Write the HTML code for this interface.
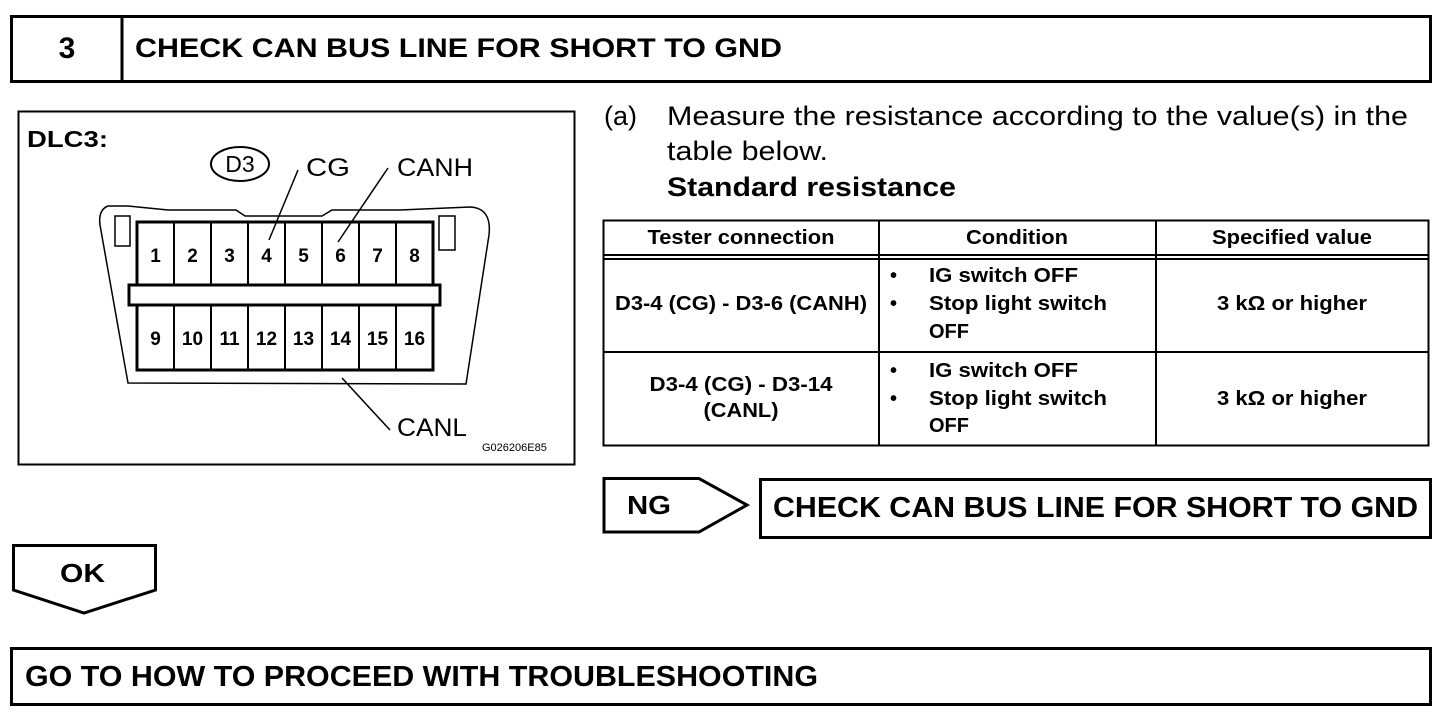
<!DOCTYPE html>
<html><head><meta charset="utf-8"><style>
html,body{margin:0;padding:0;background:#fff;}
svg{display:block;}
text{font-family:"Liberation Sans",Arial,sans-serif;fill:#000;}
.b{font-weight:bold;}
</style></head><body>
<svg width="1456" height="722" viewBox="0 0 1456 722" xmlns="http://www.w3.org/2000/svg">
<rect x="11.5" y="16.5" width="1419" height="65" fill="none" stroke="#000" stroke-width="3"/>
<line x1="122" y1="16" x2="122" y2="82" stroke="#000" stroke-width="3"/>
<text x="67" y="58" class="b" font-size="30" text-anchor="middle">3</text>
<text x="135" y="57" class="b" font-size="27" textLength="647" lengthAdjust="spacingAndGlyphs">CHECK CAN BUS LINE FOR SHORT TO GND</text>

<rect x="18.5" y="111.5" width="556" height="353" fill="none" stroke="#000" stroke-width="2"/>
<text x="27" y="147" class="b" font-size="23" textLength="81" lengthAdjust="spacingAndGlyphs">DLC3:</text>
<ellipse cx="240" cy="164" rx="29" ry="17" fill="none" stroke="#000" stroke-width="2"/>
<text x="240" y="172" font-size="23" text-anchor="middle">D3</text>
<text x="306" y="176" font-size="25" textLength="44" lengthAdjust="spacingAndGlyphs">CG</text>
<text x="397" y="176" font-size="25" textLength="76" lengthAdjust="spacingAndGlyphs">CANH</text>
<text x="397" y="436" font-size="25" textLength="70" lengthAdjust="spacingAndGlyphs">CANL</text>
<text x="482" y="451" font-size="11">G026206E85</text>
<path d="M108 206 Q98 210 100 225 L128 383 L466 384 L489 235 Q492 208 470 207 L400 210 L332 210 L322 216 L245 216 L236 210 L168 210 L128 206 Z" fill="none" stroke="#000" stroke-width="1.5"/>
<rect x="115" y="216" width="15" height="30" fill="none" stroke="#000" stroke-width="1.5"/>
<rect x="439" y="216" width="16" height="34" fill="none" stroke="#000" stroke-width="1.5"/>
<rect x="137" y="222" width="296" height="148" fill="none" stroke="#000" stroke-width="3"/>
<g stroke="#000" stroke-width="2">
<line x1="174" y1="222" x2="174" y2="370"/><line x1="211" y1="222" x2="211" y2="370"/>
<line x1="248" y1="222" x2="248" y2="370"/><line x1="285" y1="222" x2="285" y2="370"/>
<line x1="322" y1="222" x2="322" y2="370"/><line x1="359" y1="222" x2="359" y2="370"/>
<line x1="396" y1="222" x2="396" y2="370"/>
</g>
<rect x="129" y="285" width="311" height="20" fill="#fff" stroke="#000" stroke-width="3"/>
<g font-size="19" class="b" text-anchor="middle">
<text x="155.5" y="262">1</text><text x="192.5" y="262">2</text><text x="229.5" y="262">3</text><text x="266.5" y="262">4</text>
<text x="303.5" y="262">5</text><text x="340.5" y="262">6</text><text x="377.5" y="262">7</text><text x="414.5" y="262">8</text>
<text x="155.5" y="345">9</text><text x="192.5" y="345">10</text><text x="229.5" y="345">11</text><text x="266.5" y="345">12</text>
<text x="303.5" y="345">13</text><text x="340.5" y="345">14</text><text x="377.5" y="345">15</text><text x="414.5" y="345">16</text>
</g>
<g stroke="#000" stroke-width="1.5">
<line x1="298" y1="170" x2="269" y2="240"/>
<line x1="388" y1="168" x2="338" y2="242"/>
<line x1="342" y1="378" x2="390" y2="430"/>
</g>

<text x="604" y="125" font-size="27">(a)</text>
<text x="667" y="125" font-size="27" textLength="741" lengthAdjust="spacingAndGlyphs">Measure the resistance according to the value(s) in the</text>
<text x="667" y="160" font-size="27" textLength="161" lengthAdjust="spacingAndGlyphs">table below.</text>
<text x="667" y="196" font-size="27" class="b" textLength="289" lengthAdjust="spacingAndGlyphs">Standard resistance</text>

<rect x="603.5" y="220.5" width="825" height="225" fill="none" stroke="#000" stroke-width="2"/>
<line x1="603" y1="255" x2="1429" y2="255" stroke="#000" stroke-width="2"/>
<line x1="603" y1="259" x2="1429" y2="259" stroke="#000" stroke-width="2"/>
<line x1="603" y1="352" x2="1429" y2="352" stroke="#000" stroke-width="2"/>
<line x1="879" y1="220" x2="879" y2="446" stroke="#000" stroke-width="2"/>
<line x1="1156" y1="220" x2="1156" y2="446" stroke="#000" stroke-width="2"/>
<g font-size="20" class="b">
<text x="741" y="244" text-anchor="middle" textLength="187" lengthAdjust="spacingAndGlyphs">Tester connection</text>
<text x="1017" y="244" text-anchor="middle" textLength="102" lengthAdjust="spacingAndGlyphs">Condition</text>
<text x="1292" y="244" text-anchor="middle" textLength="160" lengthAdjust="spacingAndGlyphs">Specified value</text>
<text x="741" y="310" text-anchor="middle" textLength="252" lengthAdjust="spacingAndGlyphs">D3-4 (CG) - D3-6 (CANH)</text>
<text x="741" y="391" text-anchor="middle" textLength="183" lengthAdjust="spacingAndGlyphs">D3-4 (CG) - D3-14</text>
<text x="741" y="417" text-anchor="middle" textLength="75" lengthAdjust="spacingAndGlyphs">(CANL)</text>
<text x="1292" y="310" text-anchor="middle" textLength="150" lengthAdjust="spacingAndGlyphs">3 kΩ or higher</text>
<text x="1292" y="405" text-anchor="middle" textLength="150" lengthAdjust="spacingAndGlyphs">3 kΩ or higher</text>
<text x="890" y="282">•</text><text x="929" y="282" textLength="149" lengthAdjust="spacingAndGlyphs">IG switch OFF</text>
<text x="890" y="310">•</text><text x="929" y="310" textLength="178" lengthAdjust="spacingAndGlyphs">Stop light switch</text>
<text x="929" y="338">OFF</text>
<text x="890" y="377">•</text><text x="929" y="377" textLength="149" lengthAdjust="spacingAndGlyphs">IG switch OFF</text>
<text x="890" y="405">•</text><text x="929" y="405" textLength="178" lengthAdjust="spacingAndGlyphs">Stop light switch</text>
<text x="929" y="432">OFF</text>
</g>

<path d="M604 478.5 L699 478.5 L747 505 L699 532 L604 532 Z" fill="none" stroke="#000" stroke-width="3"/>
<text x="627" y="514" class="b" font-size="26" textLength="44" lengthAdjust="spacingAndGlyphs">NG</text>
<rect x="760.5" y="479.5" width="670" height="58" fill="none" stroke="#000" stroke-width="3"/>
<text x="773" y="517" class="b" font-size="29" textLength="645" lengthAdjust="spacingAndGlyphs">CHECK CAN BUS LINE FOR SHORT TO GND</text>

<path d="M13.5 545.5 L155.5 545.5 L155.5 590 L84 613 L13.5 590 Z" fill="none" stroke="#000" stroke-width="3"/>
<text x="60" y="582" class="b" font-size="26" textLength="45" lengthAdjust="spacingAndGlyphs">OK</text>

<rect x="11.5" y="648.5" width="1419" height="56" fill="none" stroke="#000" stroke-width="3"/>
<text x="25" y="686" class="b" font-size="29" textLength="793" lengthAdjust="spacingAndGlyphs">GO TO HOW TO PROCEED WITH TROUBLESHOOTING</text>
</svg>
</body></html>
